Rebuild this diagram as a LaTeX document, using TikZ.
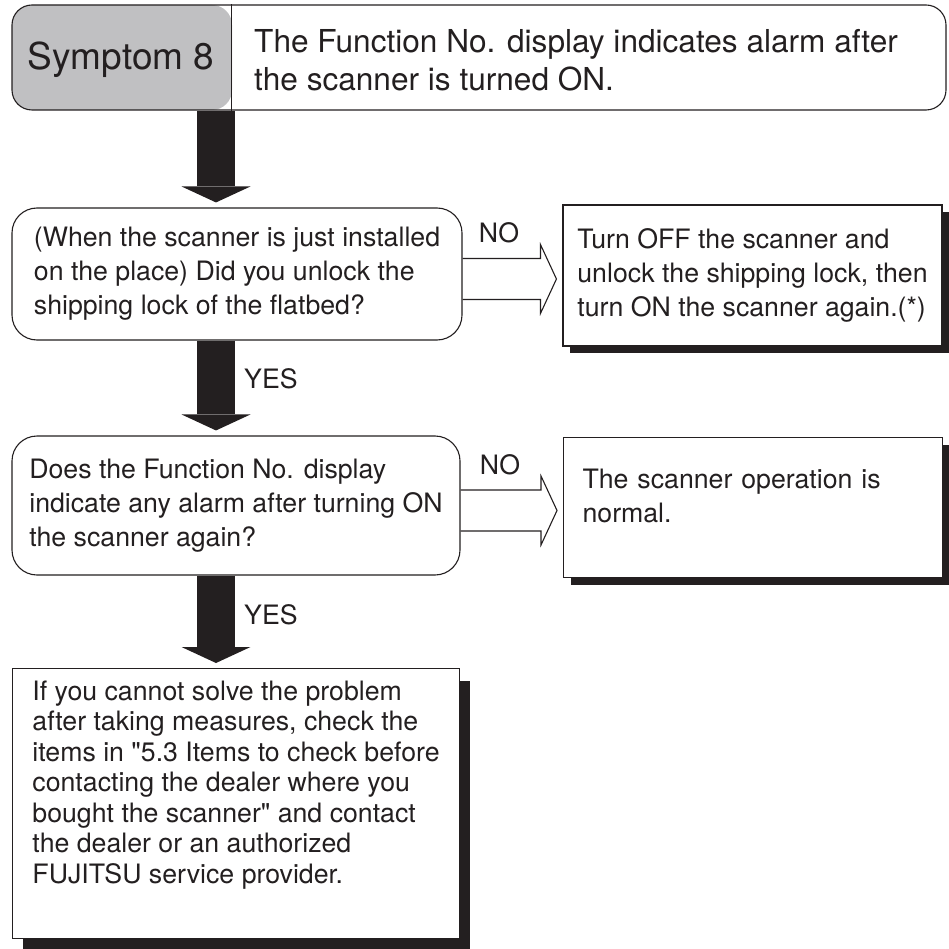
\documentclass[tikz,border=0pt]{standalone}
\usepackage{fontspec}
\setmainfont{TeX Gyre Heros}
\usepackage{tikz}
\usetikzlibrary{arrows.meta,positioning,shadows,calc}

\definecolor{ink}{RGB}{35,31,32}
\definecolor{symgray}{RGB}{192,192,194}

% open arrow between a question and its answer
\newcommand{\hollowarr}[2]{%
  \draw[hollow] let \p1=(#1.east), \p2=(#2.west) in
    (\x1,\y1+15.5pt) -- (\x2-22pt,\y1+15.5pt) -- (\x2-22pt,\y1+29.5pt) -- (\x2-6pt,\y1-5pt)
    -- (\x2-22pt,\y1-39.5pt) -- (\x2-22pt,\y1-25.5pt) -- (\x1,\y1-25.5pt);}

\begin{document}
\begin{tikzpicture}[x=1pt,y=-1pt,>=Latex,every node/.style={text=ink}]
\tikzstyle{txt}=[font=\fontsize{26.7}{34}\selectfont]
\tikzstyle{qbox}=[txt,rectangle,rounded corners=25pt,draw=ink,line width=1.1pt,align=left,fill=white]
\tikzstyle{plainbox}=[txt,rectangle,draw=ink,line width=1.1pt,align=left,fill=white]
\tikzstyle{abox}=[plainbox,drop shadow={shadow xshift=7pt,shadow yshift=-7pt,opacity=1,fill=ink}]
\tikzstyle{finbox}=[plainbox,drop shadow={shadow xshift=10pt,shadow yshift=-12pt,opacity=1,fill=ink}]
\tikzstyle{lbl}=[txt,inner sep=0pt]
\tikzstyle{down}=[ink,line width=38pt,-{Triangle[width=69pt,length=16pt,line width=0pt]},shorten >=5pt]
\tikzstyle{hollow}=[ink,line width=1.1pt]

\useasboundingbox (0,0) rectangle (948,949);

% header
\node[draw=ink,line width=1.1pt,rounded corners=20pt,minimum width=934pt,minimum height=105pt,inner sep=0pt,
  path picture={\fill[symgray] (path picture bounding box.north west) rectangle ([xshift=220pt]path picture bounding box.south west);}]
  (head) at (479,57.5) {};
\draw[line width=1.1pt,ink] ([xshift=220pt]head.north west) -- ([xshift=220pt]head.south west);
\node[font=\fontsize{37}{40}\selectfont,anchor=base,inner sep=0pt] (sym) at (121,69.3) {Symptom 8};
\node[font=\fontsize{31.6}{38}\selectfont,anchor=base west,align=left,inner sep=0pt] (symtxt) at (254,91)
  {The Function No. display indicates alarm after\\the scanner is turned ON.};

% questions
\node[qbox,minimum width=450pt,minimum height=132pt] (q1) at (237,274)
  {(When the scanner is just installed\\on the place) Did you unlock the\\shipping lock of the flatbed?};
\node[qbox,minimum width=448pt,minimum height=139pt] (q2) at (236,505.5)
  {Does the Function No. display\\indicate any alarm after turning ON\\the scanner again?};

% answers
\node[abox,minimum width=379pt,minimum height=141pt] (a1) at (752.5,275.5)
  {Turn OFF the scanner and\\unlock the shipping lock, then\\turn ON the scanner again.(*)};
\node[abox,anchor=north west,text width=341pt,inner xsep=19pt,inner ysep=0pt,text height=50.5pt,text depth=89.5pt] (a2) at (563,437)
  {The scanner operation is\\normal.};
\node[finbox,font=\fontsize{26.7}{30.5}\selectfont,anchor=north west,minimum width=447pt,inner ysep=0pt,text height=214.5pt,text depth=55.5pt] (fin) at (12,668)
  {If you cannot solve the problem\\after taking measures, check the\\items in \textquotedbl 5.3 Items to check before\\contacting the dealer where you\\bought the scanner\textquotedbl{} and contact\\the dealer or an authorized\\FUJITSU service provider.};

% flow
\draw[down] (head.south -| 216,0) -- (q1.north -| 216,0);
\draw[down] (q1.south -| 216,0) -- (q2.north -| 216,0);
\draw[down] (q2.south -| 216,0) -- (fin.north -| 216,0);
\hollowarr{q1}{a1}
\hollowarr{q2}{a2}

\node[lbl,anchor=west] (yes1) at (244,379) {YES};
\node[lbl,anchor=west] (yes2) at (244,615) {YES};
\node[lbl,anchor=base] (no1) at (499,243) {NO};
\node[lbl,anchor=base] (no2) at (500,474) {NO};
\end{tikzpicture}
\end{document}
